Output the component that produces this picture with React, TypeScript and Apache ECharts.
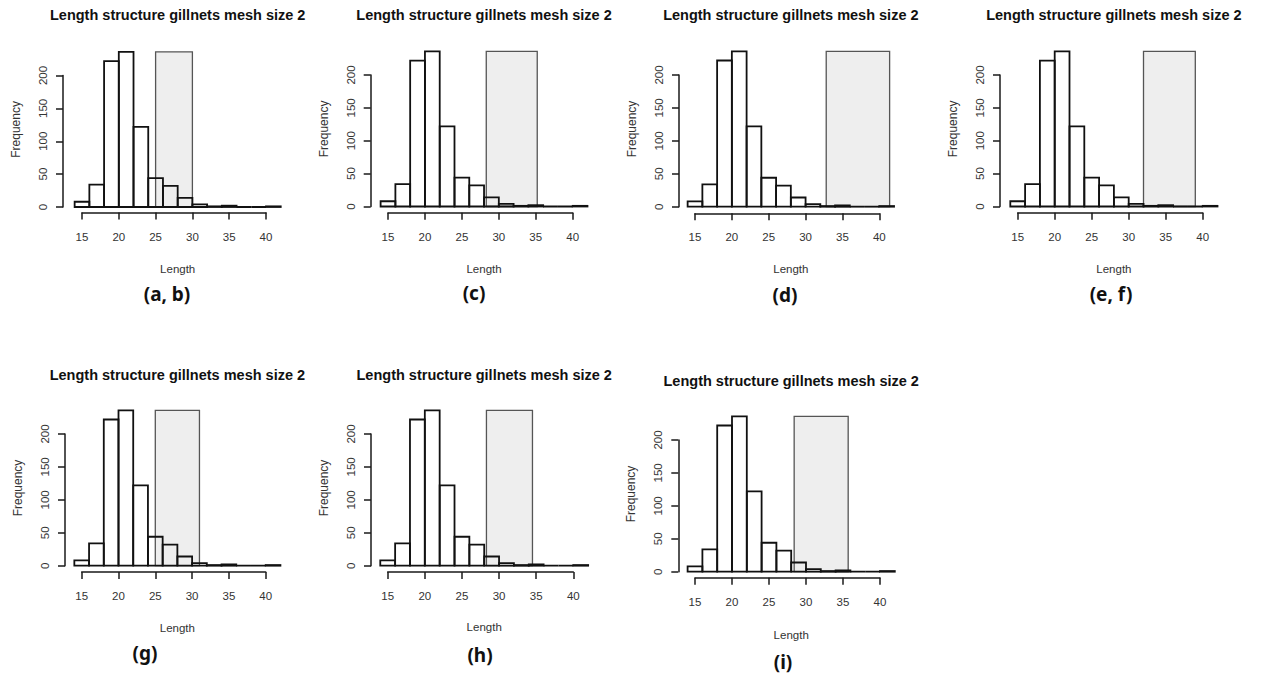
import { useEffect, useRef } from "react";
import * as echarts from "echarts";

// ---- data ----
const BIN_STARTS = [14, 16, 18, 20, 22, 24, 26, 28, 30, 32, 34, 36, 38, 40];
const BIN_ENDS = [16, 18, 20, 22, 24, 26, 28, 30, 32, 34, 36, 38, 40, 42];
const COUNTS = [8, 34, 222, 236, 122, 44, 32, 14, 4, 1, 2, 0, 0, 1];
const PANEL_LABELS = ["(a, b)", "(c)", "(d)", "(e, f)", "(g)", "(h)", "(i)"];
const SHADE_FROM = [25, 28.3, 32.8, 32, 25, 28.3, 28.4];
const SHADE_TO = [30, 35.2, 41.4, 39, 31, 34.5, 35.7];
const SHADE_TOP = 236;
const TITLE = "Length structure gillnets mesh size 2";
const X_NAME = "Length";
const Y_NAME = "Frequency";
const X_MIN = 15;
const X_MAX = 40;
const X_STEP = 5;
const Y_MIN = 0;
const Y_MAX = 200;
const Y_STEP = 50;

// ---- layout (pixels) ----
type Layout = {
  yLineX: number; x15: number; x40: number; y0: number; y200: number; xLineY: number;
  titleY: number; lenY: number; labX: number; labY: number;
};
const LAYOUT: Layout[] = [
  { yLineX: 63, x15: 82, x40: 266, y0: 207, y200: 75.5, xLineY: 212.5, titleY: 15, lenY: 269, labX: 167, labY: 294 },
  { yLineX: 370.7, x15: 388, x40: 572.7, y0: 206.5, y200: 75, xLineY: 212.7, titleY: 15, lenY: 269, labX: 474, labY: 293 },
  { yLineX: 679, x15: 695, x40: 879.3, y0: 206.7, y200: 75, xLineY: 213.3, titleY: 15, lenY: 269, labX: 785, labY: 295 },
  { yLineX: 1000, x15: 1017.7, x40: 1202.7, y0: 206.5, y200: 75, xLineY: 212.7, titleY: 15, lenY: 269, labX: 1111, labY: 294 },
  { yLineX: 65, x15: 81.7, x40: 265.7, y0: 565.7, y200: 434, xLineY: 572, titleY: 375, lenY: 628, labX: 145, labY: 653 },
  { yLineX: 371, x15: 387.7, x40: 573.3, y0: 565.7, y200: 434, xLineY: 572, titleY: 375, lenY: 627, labX: 480, labY: 655 },
  { yLineX: 678.3, x15: 695, x40: 880, y0: 571.7, y200: 440, xLineY: 577.7, titleY: 381, lenY: 635, labX: 783, labY: 662 },
];

const AXIS_COLOR = "#1a1a1a";
const TEXT_COLOR = "#333";

function buildOption() {
  const grid: any[] = [];
  const xAxis: any[] = [];
  const yAxis: any[] = [];
  const series: any[] = [];
  const graphic: any[] = [];

  const barData = BIN_STARTS.map((s, i) => [s, BIN_ENDS[i], COUNTS[i]]);

  LAYOUT.forEach((L, i) => {
    const kx = (L.x40 - L.x15) / (X_MAX - X_MIN);
    const ky = (L.y0 - L.y200) / (Y_MAX - Y_MIN);
    grid.push({ left: L.x15, top: L.y200, width: L.x40 - L.x15, height: L.y0 - L.y200, containLabel: false });
    xAxis.push({
      type: "value", gridIndex: i, min: X_MIN, max: X_MAX, interval: X_STEP,
      offset: L.xLineY - L.y0,
      axisLine: { show: true, onZero: false, lineStyle: { color: AXIS_COLOR, width: 1.5 } },
      axisTick: { show: true, length: 7, lineStyle: { color: AXIS_COLOR, width: 1.5 } },
      axisLabel: { color: TEXT_COLOR, fontSize: 11.5, fontFamily: "Liberation Sans", margin: 18 },
      splitLine: { show: false },
    });
    yAxis.push({
      type: "value", gridIndex: i, min: Y_MIN, max: Y_MAX, interval: Y_STEP,
      offset: L.x15 - L.yLineX,
      axisLine: { show: true, onZero: false, lineStyle: { color: AXIS_COLOR, width: 1.5 } },
      axisTick: { show: true, length: 7, lineStyle: { color: AXIS_COLOR, width: 1.5 } },
      axisLabel: { color: TEXT_COLOR, fontSize: 11.5, fontFamily: "Liberation Sans", margin: 14, rotate: 90 },
      splitLine: { show: false },
    });
    // shaded selection rectangle
    series.push({
      type: "custom", xAxisIndex: i, yAxisIndex: i, clip: false, silent: true,
      data: [[SHADE_FROM[i], SHADE_TO[i], SHADE_TOP]],
      encode: { x: [0, 1], y: 2 },
      renderItem: (params: any, api: any) => {
        const p0 = api.coord([api.value(0), 0]);
        const p1 = api.coord([api.value(1), api.value(2)]);
        return {
          type: "rect",
          shape: { x: p0[0], y: p1[1], width: p1[0] - p0[0], height: p0[1] - p1[1] },
          style: { fill: "#eeeeee", stroke: "#555", lineWidth: 1.3 },
        };
      },
    });
    // histogram bars
    series.push({
      type: "custom", xAxisIndex: i, yAxisIndex: i, clip: false, silent: true,
      data: barData,
      encode: { x: [0, 1], y: 2 },
      renderItem: (params: any, api: any) => {
        const p0 = api.coord([api.value(0), 0]);
        const p1 = api.coord([api.value(1), api.value(2)]);
        return {
          type: "rect",
          shape: { x: p0[0], y: p1[1], width: p1[0] - p0[0], height: p0[1] - p1[1] },
          style: { fill: "none", stroke: "#111", lineWidth: 1.8 },
        };
      },
    });

    const cx = L.x15 + (28 - X_MIN) * kx;
    const cyFreq = L.y0 - 118 * ky;
    graphic.push({
      type: "text", x: cx, y: L.titleY,
      style: { text: TITLE, fill: "#111", font: "bold 14.5px 'Liberation Sans'", align: "center", verticalAlign: "middle" },
    });
    graphic.push({
      type: "text", x: cx, y: L.lenY,
      style: { text: X_NAME, fill: TEXT_COLOR, font: "11.5px 'Liberation Sans'", align: "center", verticalAlign: "middle" },
    });
    graphic.push({
      type: "text", x: L.yLineX - 47, y: cyFreq, rotation: Math.PI / 2,
      style: { text: Y_NAME, fill: TEXT_COLOR, font: "12px 'Liberation Sans'", align: "center", verticalAlign: "middle" },
    });
    graphic.push({
      type: "text", x: L.labX, y: L.labY,
      style: { text: PANEL_LABELS[i], fill: "#111", font: "bold 19px 'Noto Sans'", align: "center", verticalAlign: "middle" },
    });
  });

  return { animation: false, backgroundColor: "#fff", grid, xAxis, yAxis, series, graphic };
}

export default function App() {
  const ref = useRef<HTMLDivElement>(null);
  useEffect(() => {
    if (!ref.current) return;
    const chart = echarts.init(ref.current, undefined, { renderer: "svg" });
    chart.setOption(buildOption() as any);
    return () => chart.dispose();
  }, []);
  return (
    <div
      ref={ref}
      style={{ position: "fixed", left: 0, top: 0, width: 1262, height: 674, background: "#fff" }}
    />
  );
}
